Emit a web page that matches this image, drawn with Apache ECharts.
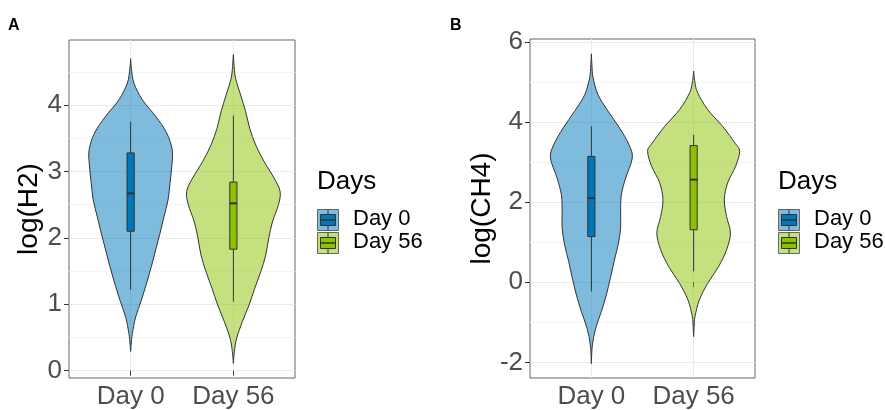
<!DOCTYPE html>
<html>
<head>
<meta charset="utf-8">
<script src="https://cdn.jsdelivr.net/npm/echarts@6/dist/echarts.min.js"></script>
<style>
  html, body { margin: 0; padding: 0; background: #fff; }
  #chart { width: 885px; height: 410px; }
</style>
</head>
<body>
<div id="chart"></div>
<script>
// categories and tick values
const categories = ['Day 0', 'Day 56'];
const h2Ticks = [0, 1, 2, 3, 4];
const ch4Ticks = [-2, 0, 2, 4, 6];

// violin outlines: value levels (top -> bottom) and half widths (category units)
const h2Day0Y = [4.70, 4.55, 4.33, 4.08, 3.83, 3.58, 3.32, 3.07, 2.82, 2.57, 2.32, 2.07, 1.82, 1.57, 1.32, 1.06, 0.81, 0.56, 0.40, 0.29];
const h2Day0W = [0, 0.008, 0.032, 0.114, 0.244, 0.351, 0.405, 0.400, 0.383, 0.364, 0.325, 0.286, 0.244, 0.202, 0.156, 0.104, 0.049, 0.017, 0.006, 0];
const h2Day56Y = [4.76, 4.58, 4.40, 4.15, 3.90, 3.65, 3.40, 3.15, 2.90, 2.70, 2.50, 2.24, 1.99, 1.74, 1.49, 1.24, 0.99, 0.74, 0.49, 0.29, 0.11];
const h2Day56W = [0, 0.008, 0.022, 0.071, 0.120, 0.159, 0.217, 0.299, 0.397, 0.455, 0.439, 0.380, 0.344, 0.315, 0.266, 0.208, 0.153, 0.088, 0.032, 0.010, 0];
const ch4Day0Y = [5.70, 5.40, 5.10, 4.68, 4.27, 3.85, 3.43, 3.10, 2.60, 2.18, 1.77, 1.35, 0.93, 0.52, 0.10, -0.32, -0.73, -1.15, -1.57, -2.03];
const ch4Day0W = [0, 0.006, 0.017, 0.065, 0.163, 0.276, 0.368, 0.400, 0.335, 0.293, 0.286, 0.286, 0.261, 0.222, 0.186, 0.146, 0.098, 0.042, 0.010, 0];
const ch4Day56Y = [5.27, 5.00, 4.73, 4.31, 3.89, 3.47, 3.27, 2.89, 2.48, 2.06, 1.64, 1.23, 0.81, 0.39, -0.03, -0.44, -0.86, -1.10, -1.36];
const ch4Day56W = [0, 0.012, 0.039, 0.137, 0.283, 0.405, 0.450, 0.410, 0.332, 0.300, 0.322, 0.360, 0.322, 0.244, 0.137, 0.056, 0.013, 0.005, 0];

// box stats: [whisker low, q1, median, q3, whisker high]
const h2Box = [[1.22, 2.10, 2.67, 3.28, 3.75], [1.04, 1.83, 2.52, 2.84, 3.84]];
const ch4Box = [[-0.23, 1.14, 2.10, 3.14, 3.89], [0.27, 1.31, 2.56, 3.41, 3.68]];

const boxColors = ['#0077b9', '#8bc300'];
const violinColors = ['rgba(0,119,185,0.5)', 'rgba(139,195,0,0.5)'];
const font = 'Liberation Sans, Arial, Helvetica, sans-serif';

let chart = echarts.init(document.getElementById('chart'));

// 闭合的平滑轮廓 (Catmull-Rom), 尖端处不加切线
function smoothPath(pts, sharp) {
  let n = pts.length;
  let f = v => v.toFixed(2);
  let d = 'M' + f(pts[0][0]) + ' ' + f(pts[0][1]);
  for (let i = 0; i < n; i++) {
    let p0 = pts[(i - 1 + n) % n], p1 = pts[i], p2 = pts[(i + 1) % n], p3 = pts[(i + 2) % n];
    let c1 = sharp[i] ? p1 : [p1[0] + (p2[0] - p0[0]) / 6, p1[1] + (p2[1] - p0[1]) / 6];
    let j = (i + 1) % n;
    let c2 = sharp[j] ? p2 : [p2[0] - (p3[0] - p1[0]) / 6, p2[1] - (p3[1] - p1[1]) / 6];
    d += 'C' + f(c1[0]) + ' ' + f(c1[1]) + ' ' + f(c2[0]) + ' ' + f(c2[1]) + ' ' + f(p2[0]) + ' ' + f(p2[1]);
  }
  return d + 'Z';
}

// 小提琴 + 箱线
function violinRender(profiles, boxes) {
  return function (params, api) {
    let i = params.dataIndex;
    let cx = api.value(0);
    let ys = profiles[i][0], ws = profiles[i][1];
    let pts = [], sharp = [];
    for (let k = 0; k < ys.length; k++) {
      pts.push(api.coord([cx + ws[k], ys[k]]));
      sharp.push(k === 0 || k === ys.length - 1);
    }
    for (let k = ys.length - 2; k >= 1; k--) {
      pts.push(api.coord([cx - ws[k], ys[k]]));
      sharp.push(false);
    }
    let b = boxes[i];
    let hb = 0.035;
    let tl = api.coord([cx - hb, b[3]]);
    let br = api.coord([cx + hb, b[1]]);
    let ml = api.coord([cx - hb, b[2]]);
    let mr = api.coord([cx + hb, b[2]]);
    let wTop = api.coord([cx, b[4]]);
    let wLow = api.coord([cx, b[0]]);
    return {
      type: 'group',
      children: [
        {type: 'path', shape: {pathData: smoothPath(pts, sharp)},
          style: {fill: violinColors[i], stroke: '#333', lineWidth: 1}},
        {type: 'line', shape: {x1: wTop[0], y1: wTop[1], x2: wTop[0], y2: tl[1]},
          style: {stroke: '#333', lineWidth: 1}},
        {type: 'line', shape: {x1: wLow[0], y1: br[1], x2: wLow[0], y2: wLow[1]},
          style: {stroke: '#333', lineWidth: 1}},
        {type: 'rect', shape: {x: tl[0], y: tl[1], width: br[0] - tl[0], height: br[1] - tl[1]},
          style: {fill: boxColors[i], stroke: '#333', lineWidth: 1}},
        {type: 'line', shape: {x1: ml[0], y1: ml[1], x2: mr[0], y2: mr[1]},
          style: {stroke: '#333', lineWidth: 2}}
      ]
    };
  };
}

function xAxisFor(gi) {
  return {
    gridIndex: gi, type: 'value', min: 0.4, max: 2.6,
    axisLine: {show: false},
    axisTick: {show: true, customValues: [1, 2], length: 5, lineStyle: {color: '#333'}},
    axisLabel: {customValues: [1, 2], formatter: v => categories[Math.round(v) - 1],
      fontSize: 26, color: '#4d4d4d', margin: 6, fontFamily: font},
    splitLine: {show: true, lineStyle: {color: '#ebebeb'}}
  };
}

function yAxisFor(gi, min, max, ticks, name, gap) {
  return {
    gridIndex: gi, type: 'value', min: min, max: max,
    axisLine: {show: false},
    axisTick: {show: true, customValues: ticks, length: 5, lineStyle: {color: '#333'}},
    axisLabel: {customValues: ticks, fontSize: 26, color: '#4d4d4d', margin: 7, fontFamily: font},
    splitLine: {show: true, lineStyle: {color: '#ebebeb'}},
    minorTick: {show: false, splitNumber: 2},
    minorSplitLine: {show: true, lineStyle: {color: '#f4f4f4'}},
    name: name, nameLocation: 'middle', nameGap: gap,
    nameTextStyle: {fontSize: 28, color: '#000', fontFamily: font}
  };
}

// 图例键
function legendKeys(x0) {
  let items = [
    {type: 'text', left: x0, top: 169, style: {text: 'Days', font: '26px ' + font, fill: '#000'}}
  ];
  categories.forEach((c, i) => {
    let top = 207 + i * 23;
    items.push({
      type: 'group', left: x0, top: top,
      children: [
        {type: 'rect', shape: {x: 0, y: 0, width: 21, height: 21},
          style: {fill: violinColors[i], stroke: '#666', lineWidth: 1}},
        {type: 'line', shape: {x1: 10.5, y1: 0, x2: 10.5, y2: 21}, style: {stroke: '#333', lineWidth: 1}},
        {type: 'rect', shape: {x: 3, y: 5, width: 15, height: 11},
          style: {fill: boxColors[i], stroke: '#333', lineWidth: 1}},
        {type: 'line', shape: {x1: 3, y1: 10.5, x2: 18, y2: 10.5}, style: {stroke: '#333', lineWidth: 1.5}}
      ]
    });
    items.push({type: 'text', left: x0 + 36, top: top + 1,
      style: {text: c, font: '22px ' + font, fill: '#000'}});
  });
  return items;
}

let option = {
  animation: false,
  backgroundColor: '#fff',
  grid: [
    {left: 69, top: 40, width: 226, height: 338, show: true, borderColor: '#666', borderWidth: 1},
    {left: 530, top: 39, width: 225, height: 339, show: true, borderColor: '#666', borderWidth: 1}
  ],
  xAxis: [xAxisFor(0), xAxisFor(1)],
  yAxis: [
    yAxisFor(0, -0.11, 4.98, h2Ticks, 'log(H2)', 25),
    yAxisFor(1, -2.39, 6.07, ch4Ticks, 'log(CH4)', 32)
  ],
  graphic: [
    {type: 'text', left: 8, top: 18, style: {text: 'A', font: 'bold 16px ' + font, fill: '#000'}},
    {type: 'text', left: 450, top: 18, style: {text: 'B', font: 'bold 16px ' + font, fill: '#000'}}
  ].concat(legendKeys(317), legendKeys(778)),
  series: [
    {
      name: 'log(H2)', type: 'custom', xAxisIndex: 0, yAxisIndex: 0,
      renderItem: violinRender([[h2Day0Y, h2Day0W], [h2Day56Y, h2Day56W]], h2Box),
      encode: {x: 0},
      data: [[1], [2]]
    },
    {
      name: 'log(CH4)', type: 'custom', xAxisIndex: 1, yAxisIndex: 1,
      renderItem: violinRender([[ch4Day0Y, ch4Day0W], [ch4Day56Y, ch4Day56W]], ch4Box),
      encode: {x: 0},
      data: [[1], [2]]
    }
  ]
};

option && chart.setOption(option);
</script>
</body>
</html>
